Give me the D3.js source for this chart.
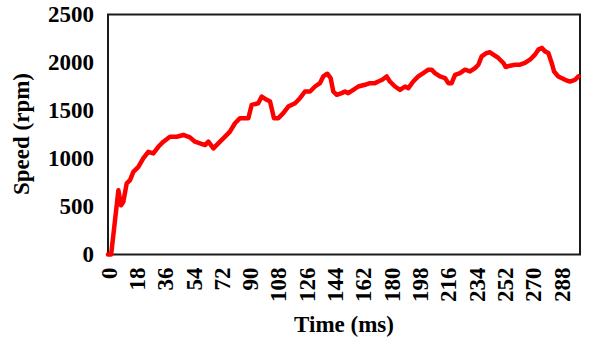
<!DOCTYPE html>
<html>
<head>
<meta charset="utf-8">
<script src="https://cdn.jsdelivr.net/npm/d3@7"></script>
<style>
  html, body { margin: 0; padding: 0; background: #fff; }
  svg { display: block; }
  text { font-family: "Liberation Serif", "Times New Roman", serif; font-weight: bold; fill: #000; }
</style>
</head>
<body>
<svg id="chart" width="589" height="338"></svg>
<script>
// Motor speed trace over time
const timeMs = [0, 2, 6.6, 8.3, 9.7, 11.9, 14, 16.1, 19.3, 22.4, 25.6, 28.8, 32, 35.2, 39.4, 43.7, 47.9,
  52.1, 55.3, 58.5, 61.7, 63.8, 67, 70.1, 73.3, 77.5, 80.7, 83.9, 89.2, 91.3, 95.5, 97.7, 100.9, 103,
  105.5, 108.3, 111.4, 114.6, 118.9, 122, 125.2, 128.4, 131.6, 134.7, 136.8, 139.4, 141.5, 143.2,
  145.4, 148.5, 150.6, 152.7, 155.9, 159.1, 163.3, 166.5, 169.7, 171.8, 174.3, 177.1, 179.2, 182.4,
  185.6, 188.8, 190.9, 194, 197.2, 200.4, 203.6, 205.7, 207.8, 211, 214.2, 216.3, 218.4, 220.6, 223.7,
  226.9, 230.1, 233.3, 235.4, 237.5, 240.7, 242.8, 244.9, 248.1, 251.3, 252.8, 255.5, 258.7, 261.9,
  265, 268.2, 271.4, 273.5, 275.7, 277.8, 279.9, 282, 283.5, 286.2, 290.5, 293.6, 296.8, 299];
const speedRpm = [0, 0, 670, 512, 547, 740, 774, 861, 913, 1001, 1070, 1053, 1122, 1175, 1227, 1227, 1245,
  1220, 1175, 1158, 1140, 1175, 1105, 1158, 1210, 1280, 1367, 1420, 1420, 1558, 1576, 1645, 1611, 1593,
  1420, 1420, 1472, 1541, 1576, 1628, 1698, 1698, 1750, 1785, 1855, 1883, 1838, 1698,
  1663, 1681, 1698, 1681, 1715, 1750, 1768, 1785, 1785, 1802, 1820, 1855, 1802, 1750,
  1715, 1750, 1733, 1802, 1855, 1890, 1925, 1925, 1890, 1855, 1838, 1785, 1785, 1872, 1890,
  1925, 1907, 1942, 1977, 2064, 2099, 2106, 2082, 2047, 1995, 1953, 1967, 1977, 1977,
  1995, 2029, 2082, 2134, 2152, 2116, 2099, 1995, 1907, 1855, 1820, 1802, 1820, 1855];
const xTicks = [0, 18, 36, 54, 72, 90, 108, 126, 144, 162, 180, 198, 216, 234, 252, 270, 288];
const yTicks = [0, 500, 1000, 1500, 2000, 2500];

const svg = d3.select("#chart");
const plot = { left: 108, right: 580, top: 14.5, bottom: 254.5 };

const x = d3.scaleLinear().domain([0, 300]).range([plot.left, plot.right]);
const y = d3.scaleLinear().domain([0, 2500]).range([plot.bottom, plot.top]);

// Plot frame
svg.append("rect")
  .attr("x", plot.left).attr("y", plot.top)
  .attr("width", plot.right - plot.left).attr("height", plot.bottom - plot.top)
  .attr("fill", "none").attr("stroke", "#1a1a1a").attr("stroke-width", 2);

// Y axis labels
const yAxis = d3.axisLeft(y).tickValues(yTicks).tickFormat(d3.format("d")).tickSize(0).tickPadding(14);
svg.append("g").attr("transform", `translate(${plot.left},0)`).call(yAxis)
  .call(g => g.select(".domain").remove())
  .selectAll("text").style("font-size", "23px").style("font-family", "Liberation Serif");

// X axis labels, rotated
const xAxis = d3.axisBottom(x).tickValues(xTicks).tickFormat(d3.format("d")).tickSize(0).tickPadding(0);
svg.append("g").attr("transform", `translate(0,${plot.bottom})`).call(xAxis)
  .call(g => g.select(".domain").remove())
  .selectAll("text")
  .style("font-size", "23px").style("font-family", "Liberation Serif")
  .attr("text-anchor", "end")
  .attr("transform", "rotate(-90)")
  .attr("x", -13).attr("y", 0).attr("dy", "0.35em");

// Speed line
const line = d3.line().x((d, i) => x(timeMs[i])).y(d => y(d));
svg.append("path").datum(speedRpm)
  .attr("d", line)
  .attr("fill", "none").attr("stroke", "#ff0000")
  .attr("stroke-width", 4.5).attr("stroke-linejoin", "round").attr("stroke-linecap", "round");

// Axis titles
svg.append("text").attr("x", 344).attr("y", 332).attr("text-anchor", "middle")
  .style("font-size", "23px").text("Time (ms)");
svg.append("text").attr("transform", "translate(29,134) rotate(-90)").attr("text-anchor", "middle")
  .style("font-size", "23px").text("Speed (rpm)");
</script>
</body>
</html>
